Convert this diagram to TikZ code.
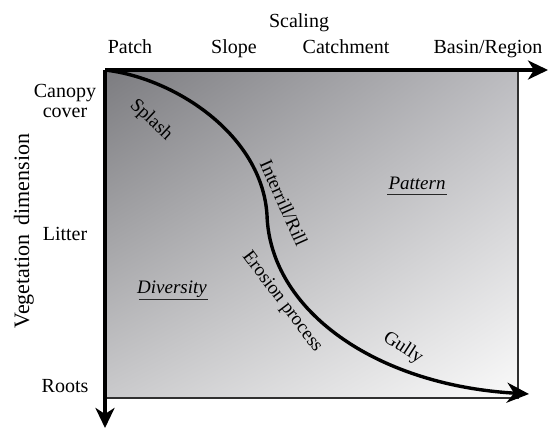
\documentclass[tikz,border=0pt]{standalone}
\usepackage{fontspec}
\newfontfamily\figfont{LiberationSerif-Regular.ttf}[ItalicFont=LiberationSerif-Italic.ttf]
\usetikzlibrary{arrows.meta,shadings}
\definecolor{cTL}{HTML}{7C7C80}
\definecolor{cTR}{HTML}{BCBCC0}
\definecolor{cBL}{HTML}{CACACC}
\definecolor{cBR}{HTML}{FAFAFA}
\definecolor{frame}{HTML}{303030}
\begin{document}
\begin{tikzpicture}[x=1pt,y=-1pt,
  axlbl/.style={font=\figfont\fontsize{20}{20}\selectfont, inner sep=0pt, anchor=base},
  inlbl/.style={font=\figfont\fontsize{19}{19}\selectfont, inner sep=1pt},
  itlbl/.style={font=\figfont\fontsize{19}{19}\selectfont\itshape, inner sep=1pt},
  axisline/.style={line width=4.2pt, -{Stealth[length=20pt,width=19pt,inset=6pt]}},
  curveline/.style={line width=3.4pt, -{Stealth[length=22pt,width=20pt,inset=7pt]}},
  frameline/.style={line width=1.6pt, frame},
  uline/.style={line width=0.9pt, black!85}]
\useasboundingbox (0,0) rectangle (548,428);
% shaded field
\shade[upper left=cTL, upper right=cTR, lower left=cBL, lower right=cBR] (105,70) rectangle (518,398);
% named points
\coordinate (o) at (105,70);
\coordinate (xe) at (548,70);
\coordinate (ye) at (105,428);
\coordinate (br) at (518,398);
\coordinate (bl) at (105,398);
\coordinate (tr) at (518,70);
\coordinate (cm) at (267,215);
\coordinate (ce) at (529,394);
% thin frame
\draw[frameline] (bl) -- (br) -- (tr);
% axes
\draw[axisline] (o) -- (xe);
\draw[axisline] (o) -- (ye);
% erosion curve
\draw[curveline] (o) .. controls (175,78) and (262,135) .. (cm)
  .. controls (270,310) and (375,385) .. (ce);
% axis labels
\node[axlbl] (scaling) at (299,28) {Scaling};
\node[axlbl] (patch) at (130,53) {Patch};
\node[axlbl] (slope) at (234,53) {Slope};
\node[axlbl] (catch) at (346,53) {Catchment};
\node[axlbl] (basin) at (488,53) {Basin/Region};
\node[axlbl, align=center, anchor=center] (canopy) at (65,101) {Canopy\\cover};
\node[axlbl] (litter) at (65,240) {Litter};
\node[axlbl] (roots) at (65,392) {Roots};
\node[font=\figfont\fontsize{22}{22}\selectfont, inner sep=0pt, anchor=base, rotate=90] (veg) at (29,231) {Vegetation\hspace{0.15em} dimension};
% process labels
\node[inlbl, rotate=-43] (splash) at (151,120) {Splash};
\node[inlbl, rotate=-66] (rill) at (284,203) {Interrill/Rill};
\node[inlbl, rotate=-53] (erosion) at (282,302) {Erosion process};
\node[inlbl, rotate=-33] (gully) at (403,348) {Gully};
% domain labels
\node[itlbl] (pattern) at (417,183) {Pattern};
\node[itlbl] (diversity) at (172,289) {Diversity};
\draw[uline] ([yshift=-4pt]pattern.south west) -- ([yshift=-4pt]pattern.south east);
\draw[uline] ([yshift=-1pt,xshift=3pt]diversity.south west) -- ([yshift=-1pt]diversity.south east);
\end{tikzpicture}
\end{document}
